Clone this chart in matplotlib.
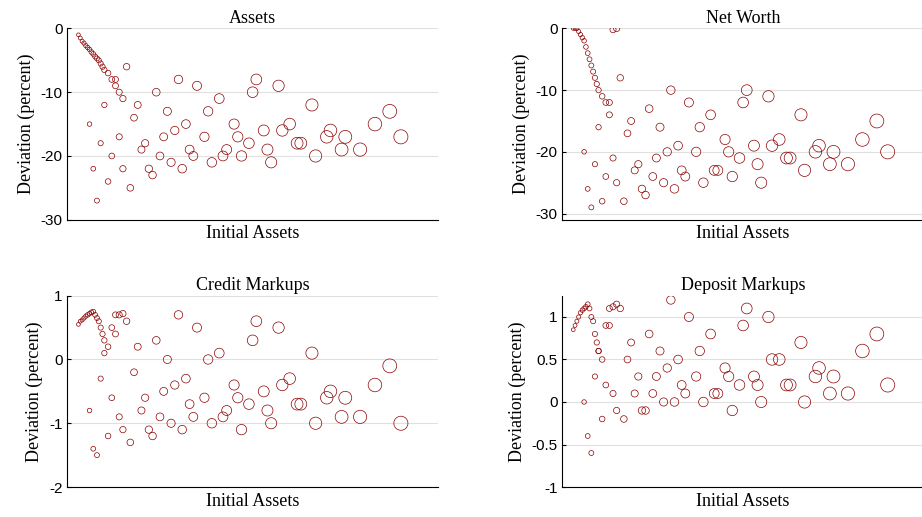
import matplotlib
matplotlib.use("Agg")
import matplotlib.pyplot as plt

x = [0.03,0.035,0.04,0.045,0.05,0.055,0.06,0.065,0.07,0.075,0.08,0.085,0.09,0.095,0.10,0.11,0.12,0.13,0.14,0.15,
     0.06,0.07,0.08,0.09,0.10,0.11,0.12,0.13,0.14,0.15,
     0.16,0.18,0.20,0.22,0.24,0.26,0.28,0.30,0.32,0.34,
     0.17,0.19,0.21,0.23,0.25,0.27,0.29,0.31,0.33,0.35,
     0.37,0.39,0.41,0.43,0.45,0.47,0.49,0.51,0.53,0.55,
     0.38,0.42,0.46,0.50,0.54,0.58,0.62,0.66,0.70,0.74,
     0.57,0.60,0.63,0.67,0.71,0.75,0.79,0.83,0.87,0.90]

assets = [-1,-1.5,-2,-2.3,-2.7,-3,-3.3,-3.7,-4,-4.4,-4.7,-5,-5.5,-6,-6.5,-7,-8,-9,-10,-11,
          -15,-22,-27,-18,-12,-24,-20,-8,-17,-22,
          -6,-14,-19,-22,-10,-17,-21,-8,-15,-20,
          -25,-12,-18,-23,-20,-13,-16,-22,-19,-9,
          -17,-21,-11,-19,-15,-20,-18,-8,-16,-21,
          -13,-20,-17,-10,-19,-16,-18,-12,-17,-19,
          -9,-15,-18,-20,-16,-17,-19,-15,-13,-17]
networth = [0,0,0,-0.5,-1,-1.5,-2,-3,-4,-5,-6,-7,-8,-9,-10,-11,-12,-14,-0.2,0,
            -20,-26,-29,-22,-16,-28,-24,-12,-21,-25,
            -8,-17,-23,-26,-13,-21,-25,-10,-19,-24,
            -28,-15,-22,-27,-24,-16,-20,-26,-23,-12,
            -20,-25,-14,-23,-18,-24,-21,-10,-19,-25,
            -16,-23,-20,-12,-22,-19,-21,-14,-20,-22,
            -11,-18,-21,-23,-19,-20,-22,-18,-15,-20]
credit = [0.55,0.6,0.62,0.65,0.68,0.7,0.72,0.74,0.75,0.7,0.65,0.6,0.5,0.4,0.3,0.2,0.5,0.7,0.7,0.72,
          -0.8,-1.4,-1.5,-0.3,0.1,-1.2,-0.6,0.4,-0.9,-1.1,
          0.6,-0.2,-0.8,-1.1,0.3,-0.5,-1.0,0.7,-0.3,-0.9,
          -1.3,0.2,-0.6,-1.2,-0.9,0.0,-0.4,-1.1,-0.7,0.5,
          -0.6,-1.0,0.1,-0.8,-0.4,-1.1,-0.7,0.6,-0.5,-1.0,
          0.0,-0.9,-0.6,0.3,-0.8,-0.4,-0.7,0.1,-0.6,-0.9,
          0.5,-0.3,-0.7,-1.0,-0.5,-0.6,-0.9,-0.4,-0.1,-1.0]
deposit = [0.85,0.9,0.95,1.0,1.05,1.08,1.1,1.12,1.15,1.1,1.0,0.95,0.8,0.7,0.6,0.5,0.9,1.1,1.12,1.15,
           0.0,-0.4,-0.6,0.3,0.6,-0.2,0.2,0.9,0.1,-0.1,
           1.1,0.5,0.1,-0.1,0.8,0.3,0.0,1.2,0.5,0.1,
           -0.2,0.7,0.3,-0.1,0.1,0.6,0.4,0.0,0.2,1.0,
           0.3,0.0,0.8,0.1,0.4,-0.1,0.2,1.1,0.3,0.0,
           0.6,0.1,0.3,0.9,0.2,0.5,0.2,0.7,0.3,0.1,
           1.0,0.5,0.2,0.0,0.4,0.3,0.1,0.6,0.8,0.2]

titles = ["Assets", "Net Worth", "Credit Markups", "Deposit Markups"]
series = [assets, networth, credit, deposit]
ylims = [(-30, 0), (-31, 0), (-2, 1), (-1, 1.25)]
yticks = [[-30, -20, -10, 0], [-30, -20, -10, 0], [-2, -1, 0, 1], [-1, -0.5, 0, 0.5, 1]]
yticklabels = [["-30", "-20", "-10", "0"], ["-30", "-20", "-10", "0"], ["-2", "-1", "0", "1"],
               ["-1", "-0.5", "0", "0.5", "1"]]

serif = "Liberation Serif"
fig = plt.figure(figsize=(9.22, 5.17), dpi=100)
pos = [(0.073, 0.575, 0.402, 0.37), (0.61, 0.575, 0.392, 0.37),
       (0.073, 0.058, 0.402, 0.37), (0.61, 0.058, 0.392, 0.37)]
sizes = [4 + 110 * v for v in x]
for i in range(4):
    ax = fig.add_axes(pos[i])
    ax.scatter(x, series[i], s=sizes, facecolors="none", edgecolors="#8b0000", linewidths=0.5)
    ax.set_xlim(0, 1)
    ax.set_ylim(*ylims[i])
    ax.set_yticks(yticks[i])
    ax.set_yticklabels(yticklabels[i], fontsize=11, family="Liberation Sans")
    ax.set_xticks([])
    ax.grid(axis="y", color="#e0e0e0", linewidth=0.8)
    ax.set_axisbelow(True)
    for s in ["top", "right"]:
        ax.spines[s].set_visible(False)
    ax.set_title(titles[i], fontsize=13, family=serif, pad=4)
    ax.set_xlabel("Initial Assets", fontsize=13, family=serif, labelpad=4)
    ax.set_ylabel("Deviation (percent)", fontsize=13, family=serif)
    ax.tick_params(axis="y", direction="in", length=3)
fig.savefig("out.png", dpi=100)
